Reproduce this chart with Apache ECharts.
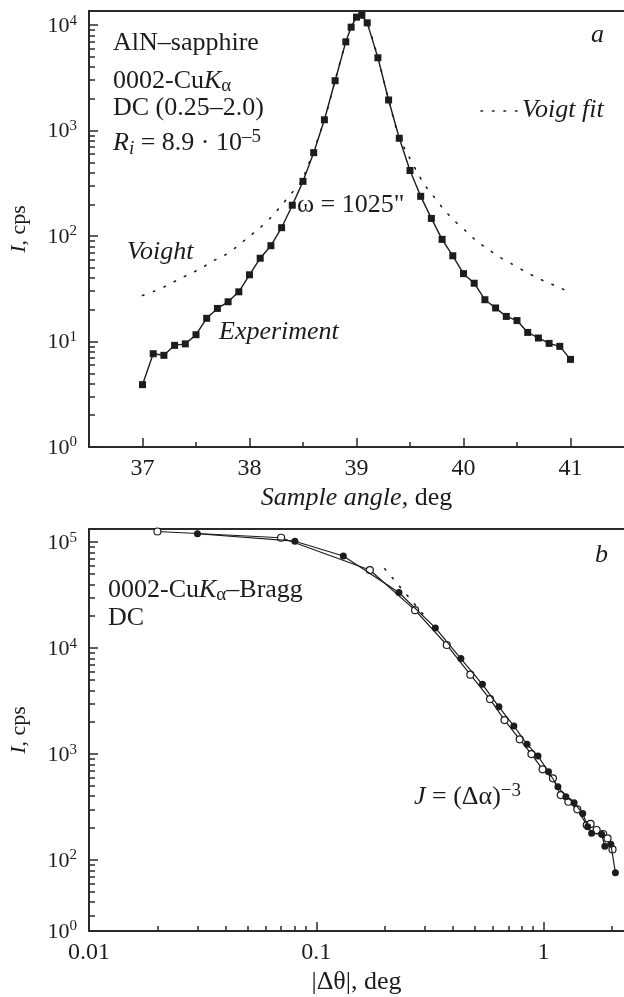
<!DOCTYPE html>
<html>
<head>
<meta charset="utf-8">
<script src="https://cdn.jsdelivr.net/npm/echarts@6/dist/echarts.min.js"></script>
<style>
html,body{margin:0;padding:0;background:#fff;}
#chart{width:624px;height:997px;}
</style>
</head>
<body>
<div id="chart"></div>
<script>
// ---------- Panel a: rocking curve ----------
const expX = [37.0,37.1,37.2,37.3,37.4,37.5,37.6,37.7,37.8,37.9,38.0,38.1,38.2,38.3,38.4,38.5,38.6,38.7,38.8,38.9,38.95,39.0,39.05,39.1,39.2,39.3,39.4,39.5,39.6,39.7,39.8,39.9,40.0,40.1,40.2,40.3,40.4,40.5,40.6,40.7,40.8,40.9,41.0];
const expY = [3.9,7.66,7.4,9.2,9.5,11.6,16.6,20.6,23.8,29.6,42.9,61.6,81,120,196,330,617,1265,2970,6940,9560,11900,12400,10500,4900,1950,845,418,238,147,93,65,44,35.7,24.9,20.8,17.3,15.8,12.2,10.8,9.6,9.0,6.77];
const voigtX = [37.0,37.11,37.23,37.33,37.44,37.55,37.65,37.77,37.88,37.98,38.09,38.2,38.3,38.39,38.48,38.6,38.7,38.8,38.9,38.95,39.0,39.05,39.1,39.2,39.3,39.4,39.46,39.57,39.64,39.72,39.81,39.91,40.02,40.12,40.23,40.34,40.45,40.56,40.67,40.78,40.89,40.99];
const voigtY = [27.3,30,34,38.5,43.6,49.6,57.5,66,79,96,118,150,196,253,323,650,1265,2970,6940,9560,11900,12400,10500,4900,1950,845,646,398,302,238,182,141,112,90,75,63,54.5,47,41,36.5,32.8,29.2];
const xTicksA = [37,38,39,40,41];
const xMinorA = [37.5,38.5,39.5,40.5];
const yTicksA = [1,10,100,1000,10000];

// ---------- Panel b: tails, log-log ----------
const filledX = [0.03,0.0805,0.1315,0.231,0.334,0.4325,0.538,0.636,0.74,0.846,0.945,1.051,1.156,1.253,1.362,1.486,1.563,1.627,1.8,1.86,1.976,2.07];
const filledY = [1.2e5,1.02e5,7.4e4,3.35e4,1.55e4,7960,4550,2790,1840,1235,957,681,492,396,347,275,206,179,175,135,141,76];
const openX = [0.02,0.07,0.172,0.272,0.375,0.476,0.581,0.673,0.785,0.884,0.99,1.099,1.19,1.285,1.407,1.548,1.61,1.711,1.828,1.911,2.01];
const openY = [1.26e5,1.1e5,5.45e4,2.28e4,1.07e4,5610,3300,2095,1377,1000,718,590,410,355,301,214,219,192,176,160,126];
const powX = [0.2,0.3];
const powY = [5.6e4,2.0e4];
const xTicksB = [0.01,0.1,1];
const xTickTextB = ['0.01','0.1','1'];
const xMinorB = [0.02,0.03,0.04,0.05,0.06,0.07,0.08,0.09,0.2,0.3,0.4,0.5,0.6,0.7,0.8,0.9,2];
const yBottomB = 21.4;
const yTicksB = [yBottomB,100,1000,10000,100000];
const yExpB = [0,2,3,4,5];

function minorDecades(lo, hi) {
  const out = [];
  for (let d = lo; d <= hi; d *= 10) for (let k = 2; k <= 9; k++) out.push(k * d);
  return out;
}
const pairs = (xs, ys) => xs.map((x, i) => [x, ys[i]]);
function nearestIndex(arr, v) {
  let best = 0;
  arr.forEach((a, i) => { if (Math.abs(Math.log10(a) - Math.log10(v)) < Math.abs(Math.log10(arr[best]) - Math.log10(v))) best = i; });
  return best;
}

const FONT = '"Liberation Serif","Times New Roman",serif';
const INK = '#1c1c1c';
const AX = '#2a2a2a';

const labRich = {
  b: {fontFamily: FONT, fontSize: 22, color: INK, lineHeight: 24, verticalAlign: 'bottom'},
  s: {fontFamily: FONT, fontSize: 15, color: INK, lineHeight: 11, verticalAlign: 'top'}
};
const expLabelA = v => '{b|10}{s|' + Math.round(Math.log10(v)) + '}';
const expLabelB = v => '{b|10}{s|' + yExpB[nearestIndex(yTicksB, v)] + '}';
const nameRich = {
  i: {fontFamily: FONT, fontSize: 26, fontStyle: 'italic', color: INK},
  n: {fontFamily: FONT, fontSize: 26, color: INK}
};
const yNameRich = {
  i: {fontFamily: FONT, fontSize: 22, fontStyle: 'italic', color: INK},
  n: {fontFamily: FONT, fontSize: 22, color: INK}
};

function majorAxisCommon() {
  return {
    axisLine: {show: true, lineStyle: {color: AX, width: 2}},
    splitLine: {show: false},
  };
}

const chart = echarts.init(document.getElementById('chart'), null, {renderer: 'canvas'});

const option = {
  backgroundColor: '#fff',
  animation: false,
  grid: [
    {left: 85, top: 11, width: 539, height: 436},
    {left: 85, top: 529, width: 539, height: 402}
  ],
  xAxis: [
    Object.assign(majorAxisCommon(), {
      type: 'value', gridIndex: 0, min: 36.5, max: 41.5, position: 'bottom',
      axisTick: {show: true, inside: true, length: 9, customValues: xTicksA, lineStyle: {color: AX, width: 1.5}},
      axisLabel: {customValues: xTicksA, margin: 10, fontFamily: FONT, fontSize: 24, color: INK},
      name: '{i|Sample angle}{n|, deg}', nameLocation: 'middle', nameGap: 38,
      nameTextStyle: {rich: nameRich}
    }),
    {
      type: 'value', gridIndex: 0, min: 36.5, max: 41.5, position: 'bottom',
      axisLine: {show: false}, splitLine: {show: false}, axisLabel: {show: false},
      axisTick: {show: true, inside: true, length: 5, customValues: xMinorA, lineStyle: {color: AX, width: 1.5}}
    },
    {
      type: 'value', gridIndex: 0, min: 36.5, max: 41.5, position: 'top',
      axisLine: {show: true, lineStyle: {color: AX, width: 2}}, splitLine: {show: false},
      axisLabel: {show: false}, axisTick: {show: false}
    },
    Object.assign(majorAxisCommon(), {
      type: 'log', logBase: 10, gridIndex: 1, min: 0.01, max: 2.258, position: 'bottom',
      axisTick: {show: true, inside: true, length: 9, customValues: xTicksB, lineStyle: {color: AX, width: 1.5}},
      axisLabel: {customValues: xTicksB, margin: 10, fontFamily: FONT, fontSize: 24, color: INK,
        formatter: v => xTickTextB[nearestIndex(xTicksB, v)]},
      name: '{n||Δθ|, deg}', nameLocation: 'middle', nameGap: 38,
      nameTextStyle: {rich: nameRich}
    }),
    {
      type: 'log', logBase: 10, gridIndex: 1, min: 0.01, max: 2.258, position: 'bottom',
      axisLine: {show: false}, splitLine: {show: false}, axisLabel: {show: false},
      axisTick: {show: true, inside: true, length: 5, customValues: xMinorB, lineStyle: {color: AX, width: 1.5}}
    },
    {
      type: 'log', logBase: 10, gridIndex: 1, min: 0.01, max: 2.258, position: 'top',
      axisLine: {show: true, lineStyle: {color: AX, width: 2}}, splitLine: {show: false},
      axisLabel: {show: false}, axisTick: {show: false}
    }
  ],
  yAxis: [
    Object.assign(majorAxisCommon(), {
      type: 'log', logBase: 10, gridIndex: 0, min: 1, max: 13600, position: 'left',
      axisTick: {show: true, inside: true, length: 9, customValues: yTicksA, lineStyle: {color: AX, width: 1.5}},
      axisLabel: {customValues: yTicksA, margin: 12, formatter: expLabelA, rich: labRich},
      name: '{i|I}{n|, cps}', nameLocation: 'middle', nameGap: 59, nameRotate: 90,
      nameTextStyle: {rich: yNameRich}
    }),
    {
      type: 'log', logBase: 10, gridIndex: 0, min: 1, max: 13600, position: 'left',
      axisLine: {show: false}, splitLine: {show: false}, axisLabel: {show: false},
      axisTick: {show: true, inside: true, length: 6, customValues: minorDecades(1, 1000), lineStyle: {color: AX, width: 1.5}}
    },
    Object.assign(majorAxisCommon(), {
      type: 'log', logBase: 10, gridIndex: 1, min: yBottomB, max: 1.33e5, position: 'left',
      axisTick: {show: true, inside: true, length: 9, customValues: yTicksB.slice(1), lineStyle: {color: AX, width: 1.5}},
      axisLabel: {customValues: yTicksB, margin: 12, formatter: expLabelB, rich: labRich},
      name: '{i|I}{n|, cps}', nameLocation: 'middle', nameGap: 59, nameRotate: 90,
      nameTextStyle: {rich: yNameRich}
    }),
    {
      type: 'log', logBase: 10, gridIndex: 1, min: yBottomB, max: 1.33e5, position: 'left',
      axisLine: {show: false}, splitLine: {show: false}, axisLabel: {show: false},
      axisTick: {show: true, inside: true, length: 6, customValues: minorDecades(10, 10000).filter(v => v > yBottomB), lineStyle: {color: AX, width: 1.5}}
    }
  ],
  series: [
    {
      name: 'Voigt fit', type: 'line', xAxisIndex: 0, yAxisIndex: 0,
      data: pairs(voigtX, voigtY), showSymbol: false, symbol: 'none', smooth: 0.3,
      lineStyle: {color: INK, width: 1.6, type: [1.5, 10], cap: 'round'}, z: 1
    },
    {
      name: 'Experiment', type: 'line', xAxisIndex: 0, yAxisIndex: 0,
      data: pairs(expX, expY), symbol: 'rect', symbolSize: 7,
      itemStyle: {color: INK}, lineStyle: {color: INK, width: 1.4}, z: 3
    },
    {
      name: 'power', type: 'line', xAxisIndex: 3, yAxisIndex: 2,
      data: pairs(powX, powY), symbol: 'none',
      lineStyle: {color: INK, width: 1.6, type: [1.5, 10], cap: 'round'}, z: 1
    },
    {
      name: 'open', type: 'line', xAxisIndex: 3, yAxisIndex: 2,
      data: pairs(openX, openY), symbol: 'circle', symbolSize: 7,
      itemStyle: {color: '#fff', borderColor: INK, borderWidth: 1.2},
      lineStyle: {color: INK, width: 1.2}, z: 3
    },
    {
      name: 'filled', type: 'line', xAxisIndex: 3, yAxisIndex: 2,
      data: pairs(filledX, filledY), symbol: 'circle', symbolSize: 7,
      itemStyle: {color: INK}, lineStyle: {color: INK, width: 1.2}, z: 4
    }
  ],
  graphic: []
};

const txtRich = {
  n: {fontFamily: FONT, fontSize: 26, color: INK, lineHeight: 30, verticalAlign: 'middle'},
  i: {fontFamily: FONT, fontSize: 26, fontStyle: 'italic', color: INK, lineHeight: 30, verticalAlign: 'middle'},
  sub: {fontFamily: FONT, fontSize: 19, color: INK, lineHeight: 13, verticalAlign: 'bottom'},
  isub: {fontFamily: FONT, fontSize: 19, fontStyle: 'italic', color: INK, lineHeight: 13, verticalAlign: 'bottom'},
  sup: {fontFamily: FONT, fontSize: 19, color: INK, lineHeight: 12, verticalAlign: 'top'}
};
function addText(text, x, y, align) {
  option.graphic.push({
    type: 'text', x: x, y: y, silent: true,
    style: {text: text, rich: txtRich, align: align || 'left', verticalAlign: 'middle',
            textAlign: align || 'left', textVerticalAlign: 'middle',
            font: '26px ' + FONT, fill: INK}
  });
}
addText('{n|AlN–sapphire}', 113, 43);
addText('{n|0002-Cu}{i|K}{sub|α}', 113, 81);
addText('{n|DC (0.25–2.0)}', 113, 108);
addText('{i|R}{isub|i}{n| = 8.9 · 10}{sup|–5}', 113, 143);
addText('{i|a}', 604, 35, 'right');
addText('{i|Voigt fit}', 522, 110);
addText('{n|ω = 1025"}', 297, 205);
addText('{i|Voight}', 127, 252);
addText('{i|Experiment}', 219, 332);
addText('{n|0002-Cu}{i|K}{sub|α}{n|–Bragg}', 108, 590);
addText('{n|DC}', 108, 618);
addText('{i|b}', 608, 555, 'right');
addText('{i|J}{n| = (Δα)}{sup|−3}', 414, 797);
option.graphic.push({
  type: 'line', silent: true,
  shape: {x1: 481, y1: 111, x2: 517, y2: 111},
  style: {stroke: INK, lineWidth: 1.6, lineDash: [1.5, 10], lineCap: 'round'}
});

chart.setOption(option);
</script>
</body>
</html>
